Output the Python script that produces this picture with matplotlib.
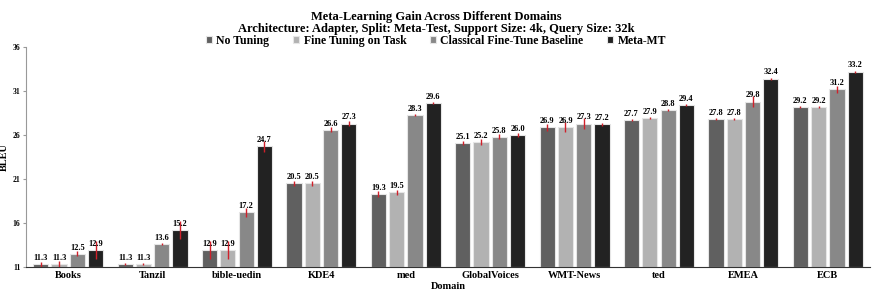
import matplotlib
matplotlib.use("Agg")
from matplotlib import pyplot as plt
import numpy as np

plt.rcParams['font.family'] = ['Liberation Serif', 'DejaVu Serif']
plt.rcParams['font.weight'] = 'bold'

domains = ['Books', 'Tanzil', 'bible-uedin', 'KDE4', 'med', 'GlobalVoices',
           'WMT-News', 'ted', 'EMEA', 'ECB']
series = ['No Tuning', 'Fine Tuning on Task', 'Classical Fine-Tune Baseline', 'Meta-MT']

no_tuning = [11.3, 11.3, 12.9, 20.5, 19.3, 25.1, 26.9, 27.7, 27.8, 29.2]
fine_tuning = [11.3, 11.3, 12.9, 20.5, 19.5, 25.2, 26.9, 27.9, 27.8, 29.2]
classical = [12.5, 13.6, 17.2, 26.6, 28.3, 25.8, 27.3, 28.8, 29.8, 31.2]
meta_mt = [12.9, 15.2, 24.7, 27.3, 29.6, 26.0, 27.2, 29.4, 32.4, 33.2]

err_no = [0.3, 0.1, 1.0, 0.3, 0.3, 0.2, 0.4, 0.1, 0.1, 0.1]
err_fine = [0.4, 0.1, 1.0, 0.3, 0.3, 0.3, 0.6, 0.1, 0.1, 0.1]
err_cls = [0.3, 0.1, 0.5, 0.3, 0.1, 0.3, 0.6, 0.1, 0.6, 0.4]
err_meta = [1.0, 1.0, 0.6, 0.3, 0.1, 0.2, 0.2, 0.1, 0.1, 0.1]

colors = ['#606060', '#b2b2b2', '#888888', '#222222']

fig = plt.figure(figsize=(8.72, 2.96), dpi=100)
ax = fig.add_axes([26 / 872, 29 / 296, 844 / 872, 220 / 296])

x = np.arange(len(domains))
step = 0.217
width = 0.18
data = [no_tuning, fine_tuning, classical, meta_mt]
errs = [err_no, err_fine, err_cls, err_meta]
handles = []
for i in range(4):
    pos = x + (i - 1.5) * step
    bars = ax.bar(pos, np.array(data[i]) - 11, width, bottom=11, color=colors[i],
                  edgecolor='#e6e6e6', linewidth=0.8, label=series[i])
    ax.errorbar(pos, data[i], yerr=errs[i], fmt='none', ecolor='#d0202a',
                elinewidth=1.0, capsize=0)
    handles.append(bars)
    for p, v in zip(pos, data[i]):
        ax.text(p, v + 0.25, '%.1f' % v, ha='center', va='bottom',
                fontsize=6, fontweight='bold')

ax.set_xlim(-0.5, len(domains) - 0.5)
ax.set_ylim(11, 36)
ax.set_yticks([11, 16, 21, 26, 31, 36])
ax.set_xticks(x)
ax.set_xticklabels(domains, fontsize=7.5, fontweight='bold')
ax.tick_params(axis='y', labelsize=5.5, length=2, color='#999999', pad=2)
ax.tick_params(axis='x', length=0, pad=3)
for lab in ax.get_yticklabels():
    lab.set_fontweight('bold')
ax.spines['top'].set_visible(False)
ax.spines['right'].set_visible(False)
ax.spines['left'].set_color('#999999')
ax.spines['bottom'].set_color('#333333')
ax.set_ylabel('BLEU', fontsize=7.5, fontweight='bold')
ax.yaxis.set_label_coords(-17 / 844, 0.5)
ax.set_xlabel('Domain', fontsize=7.5, fontweight='bold', labelpad=1)

fig.text(0.5, 1 - 17 / 296, 'Meta-Learning Gain Across Different Domains',
         ha='center', va='center', fontsize=9, fontweight='bold')
fig.text(0.5, 1 - 29 / 296,
         'Architecture: Adapter, Split: Meta-Test, Support Size: 4k, Query Size: 32k',
         ha='center', va='center', fontsize=9, fontweight='bold')
fig.legend(handles=handles, labels=series, loc='center', ncol=4,
           bbox_to_anchor=(0.5, 1 - 41 / 296), frameon=False, fontsize=8.5,
           handlelength=0.5, handleheight=0.5, handletextpad=0.4,
           columnspacing=2.0, borderpad=0)

fig.savefig('out.png', dpi=100)
